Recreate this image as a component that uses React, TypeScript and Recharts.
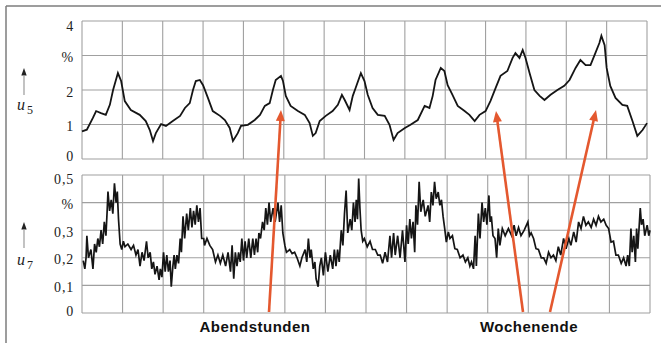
import React from 'react';
import { LineChart, Line, XAxis, YAxis, ReferenceLine } from 'recharts';

// ---- axis ticks / labels ----
const timeTicks = [0, 1, 2, 3, 4, 5, 6, 7, 8, 9, 10, 11, 12, 13, 14];
const u5Ticks = [0, 1, 2, 3, 4];
const u5TickLabels = ['0', '1', '2', '%', '4'];
const u7Ticks = [0, 0.1, 0.2, 0.3, 0.4, 0.5];
const u7TickLabels = ['0', '0,1', '0,2', '0,3', '%', '0,5'];

// ---- series u5 (time in grid columns, value in %) ----
const u5Samples: [number, number][] = [
  [0.0, 0.8], [0.12, 0.85], [0.27, 1.19], [0.35, 1.39], [0.47, 1.33], [0.59, 1.28], [0.69, 1.57],
  [0.77, 2.0], [0.89, 2.49], [0.97, 2.26], [1.06, 1.68], [1.21, 1.42], [1.43, 1.28], [1.58, 1.1],
  [1.68, 0.84], [1.76, 0.52], [1.83, 0.75], [1.96, 1.01], [2.08, 0.96], [2.25, 1.1], [2.43, 1.25],
  [2.55, 1.48], [2.67, 1.62], [2.75, 2.0], [2.82, 2.26], [2.92, 2.29], [3.0, 2.14], [3.12, 1.77],
  [3.24, 1.39], [3.42, 1.25], [3.54, 1.13], [3.66, 0.9], [3.74, 0.52], [3.86, 0.75], [3.94, 0.96],
  [4.11, 0.99], [4.28, 1.13], [4.41, 1.28], [4.53, 1.54], [4.65, 1.62], [4.73, 2.0], [4.8, 2.29],
  [4.93, 2.41], [4.98, 2.26], [5.05, 1.83], [5.17, 1.54], [5.35, 1.39], [5.52, 1.28], [5.64, 1.04],
  [5.72, 0.67], [5.79, 0.75], [5.89, 1.1], [6.04, 1.25], [6.21, 1.39], [6.34, 1.57], [6.44, 1.86],
  [6.51, 1.71], [6.63, 1.42], [6.71, 1.83], [6.78, 2.06], [6.91, 2.49], [7.0, 2.26], [7.08, 1.86],
  [7.2, 1.48], [7.33, 1.28], [7.5, 1.25], [7.62, 0.99], [7.72, 0.55], [7.82, 0.75], [8.0, 0.9],
  [8.14, 0.99], [8.32, 1.13], [8.49, 1.54], [8.61, 1.48], [8.69, 1.83], [8.76, 2.29], [8.89, 2.64],
  [8.98, 2.55], [9.06, 2.14], [9.18, 1.86], [9.31, 1.54], [9.48, 1.39], [9.6, 1.28], [9.73, 1.1],
  [9.85, 1.28], [10.0, 1.39], [10.12, 1.68], [10.25, 2.06], [10.37, 2.41], [10.54, 2.55], [10.67, 2.93],
  [10.74, 3.07], [10.84, 2.93], [10.92, 3.16], [10.99, 2.93], [11.09, 2.49], [11.21, 2.0], [11.34, 1.83],
  [11.46, 1.71], [11.61, 1.86], [11.78, 2.0], [11.95, 2.12], [12.08, 2.29], [12.23, 2.64], [12.35, 2.87],
  [12.48, 2.72], [12.6, 2.72], [12.72, 3.07], [12.82, 3.36], [12.87, 3.57], [12.95, 3.3], [13.0, 2.64],
  [13.09, 2.12], [13.22, 1.77], [13.39, 1.57], [13.51, 1.54], [13.64, 1.1], [13.76, 0.67], [13.89, 0.84],
  [14.0, 1.04],
];

// ---- series u7 (noisy trace, read as alternating highs/lows) ----
const u7Samples: [number, number][] = [
  [0.03, 0.19], [0.07, 0.16], [0.1, 0.2], [0.12, 0.28], [0.16, 0.2], [0.22, 0.23], [0.27, 0.16],
  [0.31, 0.25], [0.35, 0.22], [0.39, 0.27], [0.43, 0.24], [0.47, 0.3], [0.51, 0.25], [0.55, 0.33],
  [0.59, 0.28], [0.62, 0.37], [0.64, 0.44], [0.68, 0.37], [0.72, 0.41], [0.76, 0.36], [0.8, 0.47],
  [0.84, 0.4], [0.87, 0.44], [0.9, 0.34], [0.94, 0.25], [0.98, 0.23], [1.02, 0.26], [1.06, 0.24],
  [1.13, 0.25], [1.21, 0.23], [1.27, 0.245], [1.33, 0.21], [1.38, 0.23], [1.43, 0.17], [1.48, 0.22],
  [1.53, 0.19], [1.59, 0.26], [1.63, 0.2], [1.68, 0.22], [1.72, 0.16], [1.76, 0.185], [1.8, 0.14],
  [1.85, 0.17], [1.9, 0.12], [1.93, 0.16], [1.97, 0.13], [2.01, 0.22], [2.05, 0.15], [2.09, 0.21],
  [2.13, 0.15], [2.17, 0.19], [2.2, 0.095], [2.24, 0.17], [2.27, 0.21], [2.3, 0.16], [2.34, 0.21],
  [2.38, 0.18], [2.42, 0.27], [2.45, 0.22], [2.49, 0.35], [2.53, 0.27], [2.58, 0.36], [2.62, 0.3],
  [2.67, 0.38], [2.71, 0.31], [2.75, 0.37], [2.79, 0.32], [2.83, 0.39], [2.87, 0.33], [2.91, 0.38],
  [2.95, 0.27], [3.0, 0.27], [3.02, 0.245], [3.08, 0.27], [3.15, 0.245], [3.22, 0.23], [3.29, 0.185],
  [3.35, 0.21], [3.41, 0.18], [3.47, 0.21], [3.54, 0.17], [3.6, 0.22], [3.66, 0.15], [3.7, 0.245],
  [3.74, 0.124], [3.78, 0.22], [3.82, 0.17], [3.86, 0.22], [3.9, 0.185], [3.94, 0.27], [3.98, 0.19],
  [4.02, 0.26], [4.06, 0.2], [4.11, 0.27], [4.16, 0.2], [4.21, 0.27], [4.25, 0.21], [4.29, 0.27],
  [4.33, 0.22], [4.36, 0.29], [4.4, 0.27], [4.45, 0.33], [4.49, 0.3], [4.53, 0.38], [4.57, 0.32],
  [4.61, 0.4], [4.65, 0.33], [4.71, 0.38], [4.76, 0.33], [4.83, 0.4], [4.87, 0.33], [4.91, 0.39],
  [4.95, 0.29], [5.0, 0.245], [5.04, 0.22], [5.12, 0.23], [5.18, 0.215], [5.24, 0.22], [5.3, 0.2],
  [5.37, 0.17], [5.42, 0.2], [5.5, 0.23], [5.54, 0.185], [5.58, 0.27], [5.62, 0.2], [5.65, 0.23],
  [5.7, 0.16], [5.74, 0.185], [5.77, 0.124], [5.82, 0.095], [5.86, 0.17], [5.9, 0.2], [5.95, 0.136],
  [6.0, 0.22], [6.06, 0.15], [6.12, 0.21], [6.18, 0.16], [6.22, 0.23], [6.26, 0.17], [6.3, 0.23],
  [6.34, 0.185], [6.39, 0.3], [6.43, 0.245], [6.47, 0.36], [6.51, 0.444], [6.55, 0.29], [6.61, 0.34],
  [6.65, 0.3], [6.69, 0.4], [6.73, 0.33], [6.76, 0.41], [6.79, 0.34], [6.82, 0.487], [6.85, 0.38],
  [6.88, 0.3], [6.92, 0.26], [6.96, 0.27], [7.03, 0.24], [7.1, 0.26], [7.16, 0.23], [7.23, 0.23],
  [7.29, 0.21], [7.35, 0.21], [7.41, 0.18], [7.47, 0.22], [7.53, 0.185], [7.59, 0.28], [7.63, 0.2],
  [7.68, 0.29], [7.72, 0.21], [7.78, 0.28], [7.84, 0.2], [7.9, 0.3], [7.96, 0.185], [8.0, 0.318],
  [8.04, 0.25], [8.08, 0.34], [8.12, 0.27], [8.16, 0.33], [8.2, 0.22], [8.23, 0.39], [8.27, 0.32],
  [8.31, 0.475], [8.35, 0.367], [8.41, 0.41], [8.46, 0.35], [8.53, 0.39], [8.57, 0.33], [8.61, 0.438],
  [8.65, 0.39], [8.69, 0.475], [8.73, 0.414], [8.78, 0.438], [8.82, 0.39], [8.86, 0.41], [8.9, 0.35],
  [8.94, 0.306], [8.98, 0.257], [9.03, 0.294], [9.07, 0.27], [9.13, 0.28], [9.19, 0.233], [9.25, 0.23],
  [9.32, 0.2], [9.39, 0.21], [9.45, 0.185], [9.51, 0.2], [9.56, 0.17], [9.6, 0.185], [9.65, 0.16],
  [9.69, 0.28], [9.72, 0.17], [9.77, 0.36], [9.81, 0.27], [9.86, 0.4], [9.9, 0.33], [9.94, 0.38],
  [9.98, 0.32], [10.03, 0.426], [10.06, 0.33], [10.09, 0.35], [10.13, 0.28], [10.18, 0.27], [10.22, 0.2],
  [10.26, 0.306], [10.3, 0.245], [10.36, 0.306], [10.43, 0.28], [10.51, 0.306], [10.59, 0.28], [10.65, 0.318],
  [10.7, 0.28], [10.76, 0.31], [10.82, 0.28], [10.9, 0.3], [10.99, 0.33], [11.03, 0.28], [11.07, 0.29],
  [11.13, 0.27], [11.19, 0.233], [11.25, 0.23], [11.32, 0.2], [11.38, 0.2], [11.44, 0.18], [11.5, 0.22],
  [11.56, 0.2], [11.62, 0.21], [11.68, 0.19], [11.74, 0.24], [11.8, 0.21], [11.87, 0.27], [11.93, 0.233],
  [12.0, 0.27], [12.05, 0.245], [12.12, 0.294], [12.18, 0.257], [12.24, 0.33], [12.3, 0.306], [12.36, 0.35],
  [12.42, 0.318], [12.48, 0.33], [12.55, 0.31], [12.61, 0.34], [12.67, 0.318], [12.73, 0.35], [12.79, 0.33],
  [12.86, 0.34], [12.92, 0.318], [12.98, 0.306], [13.04, 0.257], [13.1, 0.26], [13.16, 0.21], [13.22, 0.21],
  [13.29, 0.18], [13.35, 0.2], [13.41, 0.17], [13.45, 0.21], [13.49, 0.17], [13.53, 0.306], [13.56, 0.22],
  [13.6, 0.28], [13.64, 0.185], [13.67, 0.306], [13.7, 0.233], [13.76, 0.38], [13.79, 0.32], [13.83, 0.34],
  [13.87, 0.28], [13.93, 0.318], [13.97, 0.28], [14.0, 0.3],
];

const u5Data = u5Samples.map(([t, v]) => ({ t, v }));
const u7Data = u7Samples.map(([t, v]) => ({ t, v }));

const SERIF = '"Liberation Serif", "Times New Roman", serif';
const SANS = '"Liberation Sans", Arial, sans-serif';
const GRID = '#a0a0a0';
const INK = '#151515';
const ORANGE = '#e4582f';

function makeTick(ticks: number[], labels: string[], topShift: number, bottomShift: number, midShift: number) {
  return (props: any) => {
    const { x, y, payload } = props;
    const i = ticks.findIndex((t) => Math.abs(t - payload.value) < 1e-9);
    if (i < 0) return <g />;
    const shift = i === ticks.length - 1 ? topShift : i === 0 ? bottomShift : midShift;
    return (
      <text x={x} y={y + shift} dy="0.35em" textAnchor="end" fontFamily={SERIF} fontSize={14} letterSpacing={0.8} fill="#222">
        {labels[i]}
      </text>
    );
  };
}

const emptyTick = () => <g />;

function gridLines(yTicks: number[]) {
  return [
    ...timeTicks.map((t) => (
      <ReferenceLine key={`gx${t}`} x={t} stroke={GRID} strokeWidth={1.1} ifOverflow="visible" />
    )),
    ...yTicks.map((v) => (
      <ReferenceLine key={`gy${v}`} y={v} stroke={GRID} strokeWidth={1.1} ifOverflow="visible" />
    )),
  ];
}

function OrangeArrow({ x1, y1, x2, y2 }: { x1: number; y1: number; x2: number; y2: number }) {
  const dx = x2 - x1;
  const dy = y2 - y1;
  const len = Math.sqrt(dx * dx + dy * dy);
  const ux = dx / len;
  const uy = dy / len;
  const hl = 11;
  const hw = 4.5;
  const bx = x2 - ux * hl;
  const by = y2 - uy * hl;
  const px = -uy;
  const py = ux;
  return (
    <g>
      <line x1={x1} y1={y1} x2={bx + ux * 2} y2={by + uy * 2} stroke={ORANGE} strokeWidth={2.6} />
      <polygon points={`${x2},${y2} ${bx + px * hw},${by + py * hw} ${bx - px * hw},${by - py * hw}`} fill={ORANGE} />
    </g>
  );
}

export default function App() {
  return (
    <div style={{ position: 'absolute', left: 0, top: 0, width: 661, height: 343, background: '#fff', overflow: 'hidden' }}>
      <div style={{ position: 'absolute', left: 0, top: 0 }}>
        <LineChart width={661} height={165} data={u5Data} margin={{ top: 21, right: 14, bottom: 6, left: 0 }}>
          <XAxis dataKey="t" type="number" domain={[0, 14]} ticks={timeTicks} interval={0} height={0} tick={emptyTick} axisLine={false} tickLine={false} />
          <YAxis type="number" domain={[0, 4]} ticks={u5Ticks} interval={0} width={82} axisLine={false} tickLine={false} tick={makeTick(u5Ticks, u5TickLabels, 5, -3, 2)} />
          {gridLines(u5Ticks)}
          <Line dataKey="v" type="linear" stroke={INK} strokeWidth={1.8} dot={false} isAnimationActive={false} />
        </LineChart>
      </div>
      <div style={{ position: 'absolute', left: 0, top: 165 }}>
        <LineChart width={661} height={178} data={u7Data} margin={{ top: 10, right: 11, bottom: 30, left: 0 }}>
          <XAxis dataKey="t" type="number" domain={[0, 14]} ticks={timeTicks} interval={0} height={0} tick={emptyTick} axisLine={false} tickLine={false} />
          <YAxis type="number" domain={[0, 0.5]} ticks={u7Ticks} interval={0} width={82} axisLine={false} tickLine={false} tick={makeTick(u7Ticks, u7TickLabels, 4, -2, 1.5)} />
          {gridLines(u7Ticks)}
          <Line dataKey="v" type="linear" stroke={INK} strokeWidth={1.7} dot={false} isAnimationActive={false} />
        </LineChart>
      </div>
      <svg width={661} height={343} style={{ position: 'absolute', left: 0, top: 0, pointerEvents: 'none' }}>
        {/* frame */}
        <line x1={6} y1={6} x2={661} y2={6} stroke="#7d7d7d" strokeWidth={1.5} />
        <line x1={6} y1={6} x2={6} y2={343} stroke="#7d7d7d" strokeWidth={1.5} />
        {/* u5 label */}
        <polygon points="24,68 21.3,75.5 26.7,75.5" fill="#222" />
        <line x1={24} y1={75} x2={24} y2={95} stroke="#9a9a9a" strokeWidth={1.2} />
        <text x={17} y={110} fontFamily={SERIF} fontSize={16} fontStyle="italic" fill="#222">
          u<tspan fontStyle="normal" fontSize={12} dx={2} dy={4}>5</tspan>
        </text>
        {/* u7 label */}
        <polygon points="24,222 21.3,229.5 26.7,229.5" fill="#222" />
        <line x1={24} y1={229} x2={24} y2={248} stroke="#9a9a9a" strokeWidth={1.2} />
        <text x={17} y={265} fontFamily={SERIF} fontSize={16} fontStyle="italic" fill="#222">
          u<tspan fontStyle="normal" fontSize={12} dx={2} dy={4}>7</tspan>
        </text>
        {/* annotations */}
        <OrangeArrow x1={269} y1={312} x2={281} y2={110} />
        <OrangeArrow x1={523} y1={312} x2={496} y2={111} />
        <OrangeArrow x1={550} y1={312} x2={596} y2={110} />
        <text x={255} y={332} textAnchor="middle" fontFamily={SANS} fontWeight="bold" fontSize={15} letterSpacing={0.5} fill="#111">
          Abendstunden
        </text>
        <text x={529} y={332} textAnchor="middle" fontFamily={SANS} fontWeight="bold" fontSize={15} letterSpacing={0.5} fill="#111">
          Wochenende
        </text>
      </svg>
    </div>
  );
}
